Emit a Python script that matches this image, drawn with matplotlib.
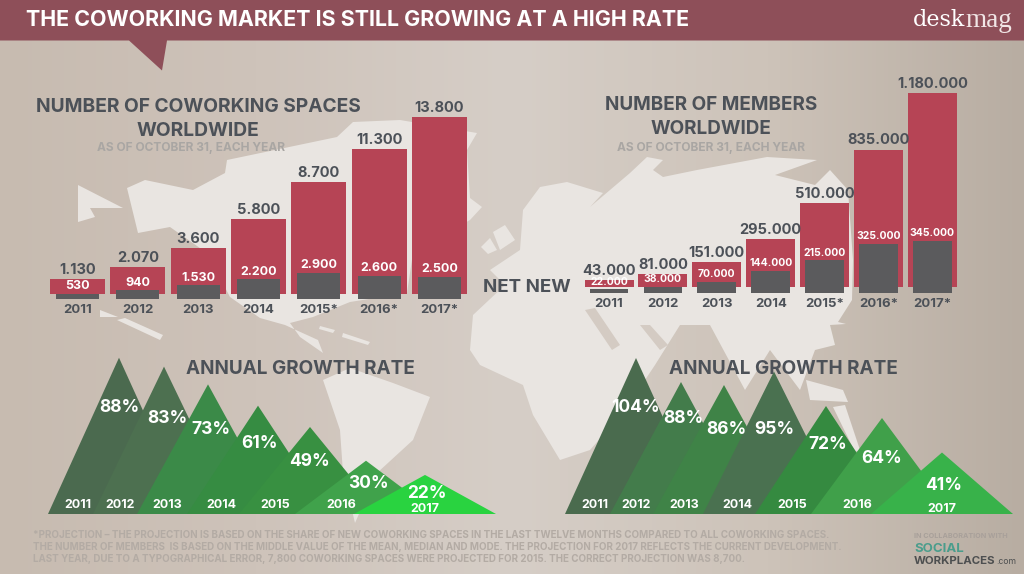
import numpy as np
import matplotlib
matplotlib.use('Agg')
import matplotlib.pyplot as plt
from matplotlib.colors import LinearSegmentedColormap

plt.rcParams['font.family'] = ['Inter', 'DejaVu Sans']
plt.rcParams['font.weight'] = 'bold'

years = ['2011', '2012', '2013', '2014', '2015', '2016', '2017']
years_star = ['2011', '2012', '2013', '2014', '2015*', '2016*', '2017*']

spaces_total = [1130, 2070, 3600, 5800, 8700, 11300, 13800]
spaces_new = [530, 940, 1530, 2200, 2900, 2600, 2500]
members_total = [43000, 81000, 151000, 295000, 510000, 835000, 1180000]
members_new = [22000, 38000, 70000, 144000, 215000, 325000, 345000]
spaces_growth = [88, 83, 73, 61, 49, 30, 22]
members_growth = [104, 88, 86, 95, 72, 64, 41]

RED = '#b64455'
GREY = '#5b5b5d'
DARK = '#4c5158'
MUTED = '#a9a6a3'
FOOT = '#b3aba4'
HEADER = '#8e4f59'
LAND = '#e9e5e1'

spaces_colors = ['#4b6a4f', '#4d7050', '#3b8a48', '#368c42', '#389041', '#40a24b', '#29d340']
members_colors = ['#4a6b4e', '#437c4b', '#3f8347', '#4a7150', '#358a40', '#40a04a', '#38b24a']

# layout, in pixels of the picture
spaces_peak_x = [119, 164, 208, 258, 310, 366, 425]
members_peak_x = [636, 681, 724, 774, 826, 882, 942]
spaces_pct_xy = [(119, 406), (167, 417), (211, 428), (259, 442), (309, 460), (368, 482), (427, 492)]
spaces_year_xy = [(78, 504), (120, 504), (167, 503), (221, 504), (275, 504), (341, 504), (425, 508)]
members_pct_xy = [(635, 406), (683, 417), (726, 428), (774, 428), (828, 443), (882, 457), (944, 484)]
members_year_xy = [(595, 504), (636, 504), (684, 503), (737, 504), (792, 504), (857, 504), (942, 508)]

land = [
    # alaska
    [(78, 185), (123, 208), (90, 208), (95, 217), (78, 222)],
    # north america + greenland
    [(127, 188), (145, 180), (193, 190), (225, 173), (227, 160), (337, 137), (353, 122), (400, 120),
     (477, 133), (467, 150), (470, 198), (482, 207), (470, 220), (413, 253), (407, 293), (350, 302),
     (313, 317), (290, 323), (300, 337), (323, 353), (318, 340), (285, 325), (260, 318), (230, 297),
     (207, 253), (170, 227), (138, 233)],
    # south america
    [(323, 380), (350, 368), (393, 383), (430, 397), (413, 440), (377, 473), (355, 523), (343, 473), (340, 430)],
    # caribbean, pacific
    [(320, 326), (335, 330), (333, 333), (319, 329)],
    [(343, 333), (370, 342), (368, 345), (342, 337)],
    [(117, 320), (125, 318), (163, 335), (160, 340)],
    [(100, 310), (118, 317), (100, 317)],
    # british isles and nordic bits
    [(481, 247), (490, 238), (497, 250), (488, 254)],
    [(493, 232), (505, 225), (515, 240), (500, 250)],
    # eurasia and africa
    [(523, 210), (540, 187), (567, 182), (603, 193), (590, 207), (630, 173), (647, 157), (663, 160),
     (653, 170), (663, 177), (697, 170), (767, 157), (817, 160), (775, 175), (815, 185), (830, 170),
     (848, 190), (853, 260), (852, 300), (838, 322), (846, 324), (830, 325), (835, 345),
     (815, 350), (800, 390), (770, 350), (745, 390), (710, 325), (680, 325), (655, 365), (625, 410),
     (590, 450), (560, 460), (533, 415), (523, 385), (480, 365), (470, 350), (473, 315), (505, 285),
     (490, 270), (520, 250)],
    # japan etc
    [(806, 380), (843, 390), (848, 402), (810, 400)],
    [(833, 407), (845, 405), (860, 450), (855, 452)],
]
# seas cut into the land
seas = [
    [(585, 310), (595, 308), (620, 345), (612, 350)],
    [(640, 325), (650, 325), (668, 345), (660, 350)],
]

fig = plt.figure(figsize=(10.24, 5.74), dpi=100)
W, H = 1024, 574


def px_axes(left, top, right, bottom, zorder=2):
    ax = fig.add_axes([left / W, 1 - bottom / H, (right - left) / W, (bottom - top) / H], zorder=zorder)
    ax.patch.set_visible(False)
    for s in ax.spines.values():
        s.set_visible(False)
    ax.set_xticks([])
    ax.set_yticks([])
    return ax


# background in picture pixels
bg = px_axes(0, 0, W, H, zorder=0)
cmap = LinearSegmentedColormap.from_list('bg', [(0, '#c7bbb0'), (0.25, '#cec3ba'), (0.5, '#d6cec7'),
                                                (0.75, '#cdc3b9'), (1, '#b8ada2')])
bg.imshow(np.linspace(0, 1, 256)[None, :], extent=[0, W, H, 0], aspect='auto', cmap=cmap, vmin=0, vmax=1)
for poly in land:
    xy = np.array(poly)
    bg.fill(xy[:, 0], xy[:, 1], color=LAND, lw=0)
for poly in seas:
    xy = np.array(poly)
    bg.fill(xy[:, 0], xy[:, 1], color='#d4cbc3', lw=0)
bg.fill([0, W, W, 167, 162, 129, 0], [0, 0, 40.5, 40.5, 70.5, 40.5, 40.5], color=HEADER, lw=0)
bg.set_xlim(0, W)
bg.set_ylim(H, 0)


def bars(total, new, labels, first_x, step, width, dark_w, base, dark_base, scale, dark_scale,
         size, new_size, year_y):
    x = np.arange(len(total))
    left = first_x - step / 2
    right = left + step * len(total)
    top = 60

    ax = px_axes(left, top, right, base, zorder=2)
    ax.bar(x, total, width=width / step, color=RED)
    ax.set_xlim(-0.5, len(total) - 0.5)
    ax.set_ylim(0, (base - top) / scale)
    for i, v in enumerate(total):
        ax.annotate(f'{v:,}'.replace(',', '.'), (i, v), xytext=(0, 6.5), textcoords='offset points',
                    ha='center', va='center', color=DARK, fontsize=size)

    ax2 = px_axes(left, top, right, dark_base, zorder=3)
    ax2.bar(x, new, width=dark_w / step, color=GREY)
    ax2.set_xlim(-0.5, len(total) - 0.5)
    ax2.set_ylim(0, (dark_base - top) / dark_scale)
    ax2.set_xticks(x, labels, color=DARK, fontsize=9.5)
    ax2.tick_params(axis='x', length=0, pad=year_y)
    for i, v in enumerate(new):
        ax2.annotate(f'{v:,}'.replace(',', '.'), (i, v), xytext=(0, 5.5), textcoords='offset points',
                     ha='center', va='center', color='white', fontsize=new_size)


bars(spaces_total, spaces_new, years_star, 77.5, 60.33, 55, 43, 294, 298.7, 0.01286, 0.00886, 10.5, 9, 4)
bars(members_total, members_new, years_star, 609, 53.9, 49, 38.7, 287.3, 292.7, 0.000165, 0.000151, 10.5, 7.5, 4)


def mountains(growth, peak_x, colors, left, right, scale):
    base = 514
    top = 340
    ax = px_axes(left, top, right, base, zorder=1)
    for cx, v, c in zip(peak_x, growth, colors):
        ax.fill([cx - 71, cx, cx + 71], [0, v, 0], color=c, lw=0)
    ax.set_xlim(left, right)
    ax.set_ylim(0, (base - top) / scale)


mountains(spaces_growth, spaces_peak_x, spaces_colors, 0, 520, 1.776)
mountains(members_growth, members_peak_x, members_colors, 520, 1024, 1.5)

# text goes on an overlay in picture pixels, nudged down a bit since va=center sits high
tx = px_axes(0, 0, W, H, zorder=5)
tx.set_xlim(0, W)
tx.set_ylim(H - 1.5, -1.5)

for vals, pct_xy, year_xy in [(spaces_growth, spaces_pct_xy, spaces_year_xy),
                              (members_growth, members_pct_xy, members_year_xy)]:
    for v, y, p, q in zip(vals, years, pct_xy, year_xy):
        tx.text(p[0], p[1], f'{v}%', color='white', fontsize=12.5, ha='center', va='center')
        tx.text(q[0], q[1], y, color='white', fontsize=9, ha='center', va='center')

tx.text(26, 18, 'THE COWORKING MARKET IS STILL GROWING AT A HIGH RATE', color='white', fontsize=15.4, va='center')
tx.text(965, 19, 'desk', family='DejaVu Serif', color='white', fontsize=16, fontweight='normal', ha='right', va='center')
tx.text(965, 19, 'mag', family='Liberation Serif', color='#f1e6e6', fontsize=19.5, fontweight='normal', ha='left', va='center')

tx.text(198, 106, 'NUMBER OF COWORKING SPACES', color=DARK, fontsize=13.8, ha='center', va='center')
tx.text(198, 129, 'WORLDWIDE', color=DARK, fontsize=13.8, ha='center', va='center')
tx.text(191, 147, 'AS OF OCTOBER 31, EACH YEAR', color=MUTED, fontsize=8.6, ha='center', va='center')
tx.text(711, 104, 'NUMBER OF MEMBERS', color=DARK, fontsize=13.6, ha='center', va='center')
tx.text(711, 127, 'WORLDWIDE', color=DARK, fontsize=13.6, ha='center', va='center')
tx.text(711, 147, 'AS OF OCTOBER 31, EACH YEAR', color=MUTED, fontsize=8.6, ha='center', va='center')
tx.text(483, 286, 'NET NEW', color=DARK, fontsize=13.5, va='center')
tx.text(300, 368, 'ANNUAL GROWTH RATE', color=DARK, fontsize=13.6, ha='center', va='center')
tx.text(783, 368, 'ANNUAL GROWTH RATE', color=DARK, fontsize=13.6, ha='center', va='center')

foot = ['*PROJECTION \u2013 THE PROJECTION IS BASED ON THE SHARE OF NEW COWORKING SPACES IN THE LAST TWELVE MONTHS COMPARED TO ALL COWORKING SPACES.',
        'THE NUMBER OF MEMBERS  IS BASED ON THE MIDDLE VALUE OF THE MEAN, MEDIAN AND MODE. THE PROJECTION FOR 2017 REFLECTS THE CURRENT DEVELOPMENT.',
        'LAST YEAR, DUE TO A TYPOGRAPHICAL ERROR, 7,800 COWORKING SPACES WERE PROJECTED FOR 2015. THE CORRECT PROJECTION WAS 8,700.']
for y, line in zip([534, 546, 558], foot):
    tx.text(33, y, line, color=FOOT, fontsize=7.05, va='center')

tx.text(914, 535, 'IN COLLABORATION WITH', color='#a8a09a', fontsize=5.2, va='center')
tx.text(914, 547, 'SOCIAL', color='#4a9d8c', fontsize=9.5, va='center')
tx.text(914, 559, 'WORKPLACES', color='#4d4f50', fontsize=8.25, va='center')
tx.text(996, 560, '.com', color='#4d4f50', fontsize=6.2, fontweight='normal', va='center')

fig.savefig('out.png', dpi=100)
